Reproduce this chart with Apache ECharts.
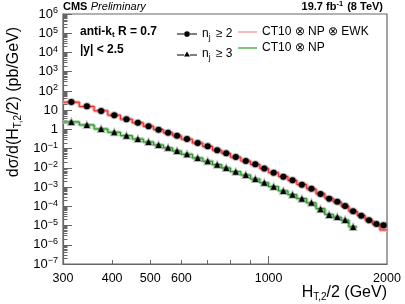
<!DOCTYPE html>
<html><head><meta charset="utf-8">
<script src="https://cdn.jsdelivr.net/npm/echarts@6/dist/echarts.min.js"></script>
<style>html,body{margin:0;padding:0;background:#fff}#c{width:405px;height:304px}</style>
</head><body><div id="c"></div>
<script>
// ---- data ----
const binEdges = [300,330,360,390,420,450,480,510,540,570,600,640,680,720,760,800,850,900,950,1000,1060,1120,1180,1250,1320,1390,1460,1530,1600,1680,1760,1840,1920,2000];
const binCenters = [315,345,375,405,435,465,495,525,555,585,620,660,700,740,780,825,875,925,975,1030,1090,1150,1215,1285,1355,1425,1495,1565,1640,1720,1800,1880,1960];
const dataNj2 = [26.5,15.8,9.0,5.4,3.34,2.22,1.44,0.96,0.664,0.469,0.316,0.196,0.132,0.0817,0.057,0.0366,0.0227,0.0153,0.00925,0.00558,0.00346,0.00225,0.00133,8.2e-4,4.4e-4,2.5e-4,1.73e-4,1.04e-4,5.5e-5,3.24e-5,1.86e-5,1.2e-5,1.02e-5];
const dataNj3 = [2.42,1.69,1.05,0.705,0.469,0.316,0.221,0.154,0.110,0.0752,0.0506,0.0325,0.0219,0.0146,0.0098,0.0063,0.00425,0.00263,0.00167,0.00104,6.25e-4,4.0e-4,2.48e-4,1.54e-4,6.98e-5,3.53e-5,2.78e-5,1.94e-5,8.4e-6];
const theoryEwk = [26.0,15.5,9.2,5.5,3.4,2.2,1.45,0.97,0.66,0.46,0.31,0.195,0.13,0.082,0.056,0.036,0.0225,0.015,0.0093,0.0056,0.0035,0.0022,0.00135,8.0e-4,4.5e-4,2.6e-4,1.7e-4,1.0e-4,5.6e-5,3.3e-5,1.9e-5,1.15e-5,5.9e-6];
const theoryNp = [2.45,1.7,1.05,0.71,0.47,0.315,0.22,0.155,0.109,0.075,0.051,0.0325,0.022,0.0146,0.0098,0.0063,0.0042,0.0026,0.00167,0.00105,6.3e-4,4.0e-4,2.5e-4,1.5e-4,7.5e-5,3.8e-5,2.7e-5,1.9e-5,8.5e-6];
const xLabelValues = [300,400,500,600,1000,2000];
const xMinorTicks = [400,500,600,700,800,900];
const yExponents = [-7,-6,-5,-4,-3,-2,-1,0,1,2,3,4,5,6];

// ---- build ----
const FONT = 'Liberation Sans, Arial, Helvetica, sans-serif';
const yMajor = yExponents.map(e => Math.pow(10, e));
const yMinor = [];
yExponents.slice(0, -1).forEach(e => { for (let k = 2; k <= 9; k++) yMinor.push(k * Math.pow(10, e)); });
function stepData(vals) {
  const out = vals.map((v, i) => [binEdges[i], v]);
  out.push([binEdges[vals.length], vals[vals.length - 1]]);
  return out;
}
const pts = vals => vals.map((v, i) => [binCenters[i], v]);

const chart = echarts.init(document.getElementById('c'), null, {renderer: 'canvas'});
const supRich = {
  b: {fontSize: 13, fontFamily: FONT, color: '#000'},
  s: {fontSize: 9, fontFamily: FONT, color: '#000', verticalAlign: 'top', padding: [0, 0, 6, 0]}
};
const legendNames = {
  nj2: '{m|n}{sub|j}{m| ≥ 2}',
  nj3: '{m|n}{sub|j}{m| ≥ 3}',
  ewk: '{m|CT10 ⊗ NP ⊗ EWK}',
  np: '{m|CT10 ⊗ NP}'
};
const legendRich = {
  m: {fontSize: 12, fontFamily: FONT, color: '#000', lineHeight: 16},
  sub: {fontSize: 8.5, fontFamily: FONT, color: '#000', padding: [7, 2, 0, 0], lineHeight: 16}
};
const ICON_CIRCLE = 'path://M0,3.6H7V4.4H0Z M13,3.6H20V4.4H13Z M7.2,4A2.8,2.8 0 1,0 12.8,4A2.8,2.8 0 1,0 7.2,4Z M0,0.5H0.01V0.51H0Z M0,7.5H0.01V7.51H0Z';
const ICON_TRI = 'path://M0,4.6H7V5.4H0Z M13,4.6H20V5.4H13Z M10,1.6L13,6.6H7Z M0,0.5H0.01V0.51H0Z M0,7.5H0.01V7.51H0Z';

const option = {
  animation: false,
  backgroundColor: '#fff',
  grid: {left: 63, right: 18, top: 14, bottom: 40, show: true, borderColor: '#666', borderWidth: 1.2, backgroundColor: 'transparent'},
  xAxis: [
    {type: 'log', logBase: 10, min: 300, max: 2000, position: 'bottom',
     axisLine: {show: true, onZero: false, lineStyle: {color: '#666', width: 1.2}},
     axisTick: {show: true, inside: true, length: 8, customValues: [1000], lineStyle: {color: '#666'}},
     axisLabel: {customValues: xLabelValues, fontSize: 12.5, fontFamily: FONT, color: '#000', margin: 8,
       formatter: v => String(Math.round(v))},
     splitLine: {show: false}},
    {type: 'log', logBase: 10, min: 300, max: 2000, position: 'bottom',
     axisLine: {show: false},
     axisTick: {show: true, inside: true, length: 4, customValues: xMinorTicks, lineStyle: {color: '#666'}},
     axisLabel: {show: false}, splitLine: {show: false}}
  ],
  yAxis: [
    {type: 'log', logBase: 10, min: 1e-7, max: 1e6, position: 'left',
     axisLine: {show: true, onZero: false, lineStyle: {color: '#666', width: 1.2}},
     axisTick: {show: true, inside: true, length: 9, customValues: yMajor, lineStyle: {color: '#666'}},
     axisLabel: {customValues: yMajor, margin: 5, color: '#000', rich: supRich,
       formatter: v => {
         const e = Math.round(Math.log10(v));
         if (e === 0) return '{b|1}';
         if (e === 1) return '{b|10}';
         return '{b|10}{s|' + (e < 0 ? '\u2212' + (-e) : e) + '}';
       }},
     splitLine: {show: false}},
    {type: 'log', logBase: 10, min: 1e-7, max: 1e6, position: 'left',
     axisLine: {show: false},
     axisTick: {show: true, inside: true, length: 4.5, customValues: yMinor, lineStyle: {color: '#666'}},
     axisLabel: {show: false}, splitLine: {show: false}}
  ],
  legend: [
    {orient: 'vertical', left: 172, top: 21, itemWidth: 20, itemHeight: 8, itemGap: 4,
     data: [
       {name: 'nj2', icon: ICON_CIRCLE, itemStyle: {color: '#000', borderWidth: 0}},
       {name: 'nj3', icon: ICON_TRI, itemStyle: {color: '#000', borderWidth: 0}}
     ],
     formatter: n => legendNames[n], textStyle: {rich: legendRich}, selectedMode: false},
    {orient: 'vertical', left: 233, top: 21, itemWidth: 19, itemHeight: 1.5, itemGap: 4,
     data: [
       {name: 'ewk', icon: 'rect', itemStyle: {color: '#f5a3a3', borderWidth: 0}},
       {name: 'np', icon: 'rect', itemStyle: {color: '#55b055', borderWidth: 0}}
     ],
     formatter: n => legendNames[n], textStyle: {rich: legendRich}, selectedMode: false}
  ],
  series: [
    {name: 'ewk', type: 'line', step: 'end', data: stepData(theoryEwk), showSymbol: false, symbol: 'none',
     lineStyle: {color: '#f7a8a8', width: 3.5}, z: 2, silent: true},
    {name: 'ewkCentral', type: 'line', step: 'end', data: stepData(theoryEwk), showSymbol: false, symbol: 'none',
     lineStyle: {color: '#ee2020', width: 1}, z: 3, silent: true},
    {name: 'np', type: 'line', step: 'end', data: stepData(theoryNp), showSymbol: false, symbol: 'none',
     lineStyle: {color: '#a8d8a8', width: 3.5}, z: 2, silent: true},
    {name: 'npCentral', type: 'line', step: 'end', data: stepData(theoryNp), showSymbol: false, symbol: 'none',
     lineStyle: {color: '#1e8c1e', width: 1}, z: 3, silent: true},
    {name: 'nj2', type: 'line', data: pts(dataNj2), symbol: 'circle', symbolSize: 6,
     itemStyle: {color: '#000', borderColor: 'rgba(0,0,0,0.28)', borderWidth: 2},
     lineStyle: {width: 0, opacity: 0}, z: 5, silent: true},
    {name: 'nj3', type: 'line', data: pts(dataNj3), symbol: 'triangle', symbolSize: 6,
     itemStyle: {color: '#000', borderColor: 'rgba(0,0,0,0.28)', borderWidth: 2},
     lineStyle: {width: 0, opacity: 0}, z: 5, silent: true}
  ],
  graphic: [
    {type: 'text', left: 63, top: 1, style: {text: '{a|CMS} {b|Preliminary}', rich: {
      a: {fontSize: 11, fontWeight: 'bold', fontFamily: FONT, fill: '#000'},
      b: {fontSize: 11, fontStyle: 'italic', fontFamily: FONT, fill: '#000'}}}},
    {type: 'text', right: 22, top: 0, style: {text: '{a|19.7 fb}{s|-1}{a| (8 TeV)}', rich: {
      a: {fontSize: 11, fontWeight: 'bold', fontFamily: FONT, fill: '#000', lineHeight: 14},
      s: {fontSize: 7.5, fontWeight: 'bold', fontFamily: FONT, fill: '#000', verticalAlign: 'top', padding: [0, 1, 5, 0]}}}},
    {type: 'text', left: 80, top: 24, style: {text: '{a|anti-k}{s|t}{a| R = 0.7}', rich: {
      a: {fontSize: 12, fontWeight: 'bold', fontFamily: FONT, fill: '#000', lineHeight: 16},
      s: {fontSize: 8, fontWeight: 'bold', fontFamily: FONT, fill: '#000', padding: [7, 0, 0, 0], lineHeight: 16}}}},
    {type: 'text', left: 80, top: 44, style: {text: '|y| < 2.5', fontSize: 12, fontWeight: 'bold', fontFamily: FONT, fill: '#000'}},
    {type: 'text', x: 14, y: 102, rotation: Math.PI / 2, style: {
      text: '{a|d\u03c3/d(H}{s|T,2}{a|/2) (pb/GeV)}', align: 'center', verticalAlign: 'middle', rich: {
      a: {fontSize: 16, fontFamily: FONT, fill: '#000', lineHeight: 20},
      s: {fontSize: 10, fontFamily: FONT, fill: '#000', padding: [9, 0, 0, 0], lineHeight: 20}}}},
    {type: 'text', right: 18, top: 283, style: {
      text: '{a|H}{s|T,2}{a|/2 (GeV)}', rich: {
      a: {fontSize: 16, fontFamily: FONT, fill: '#000', lineHeight: 20},
      s: {fontSize: 10, fontFamily: FONT, fill: '#000', padding: [9, 0, 0, 0], lineHeight: 20}}}}
  ]
};
chart.setOption(option);
</script></body></html>
